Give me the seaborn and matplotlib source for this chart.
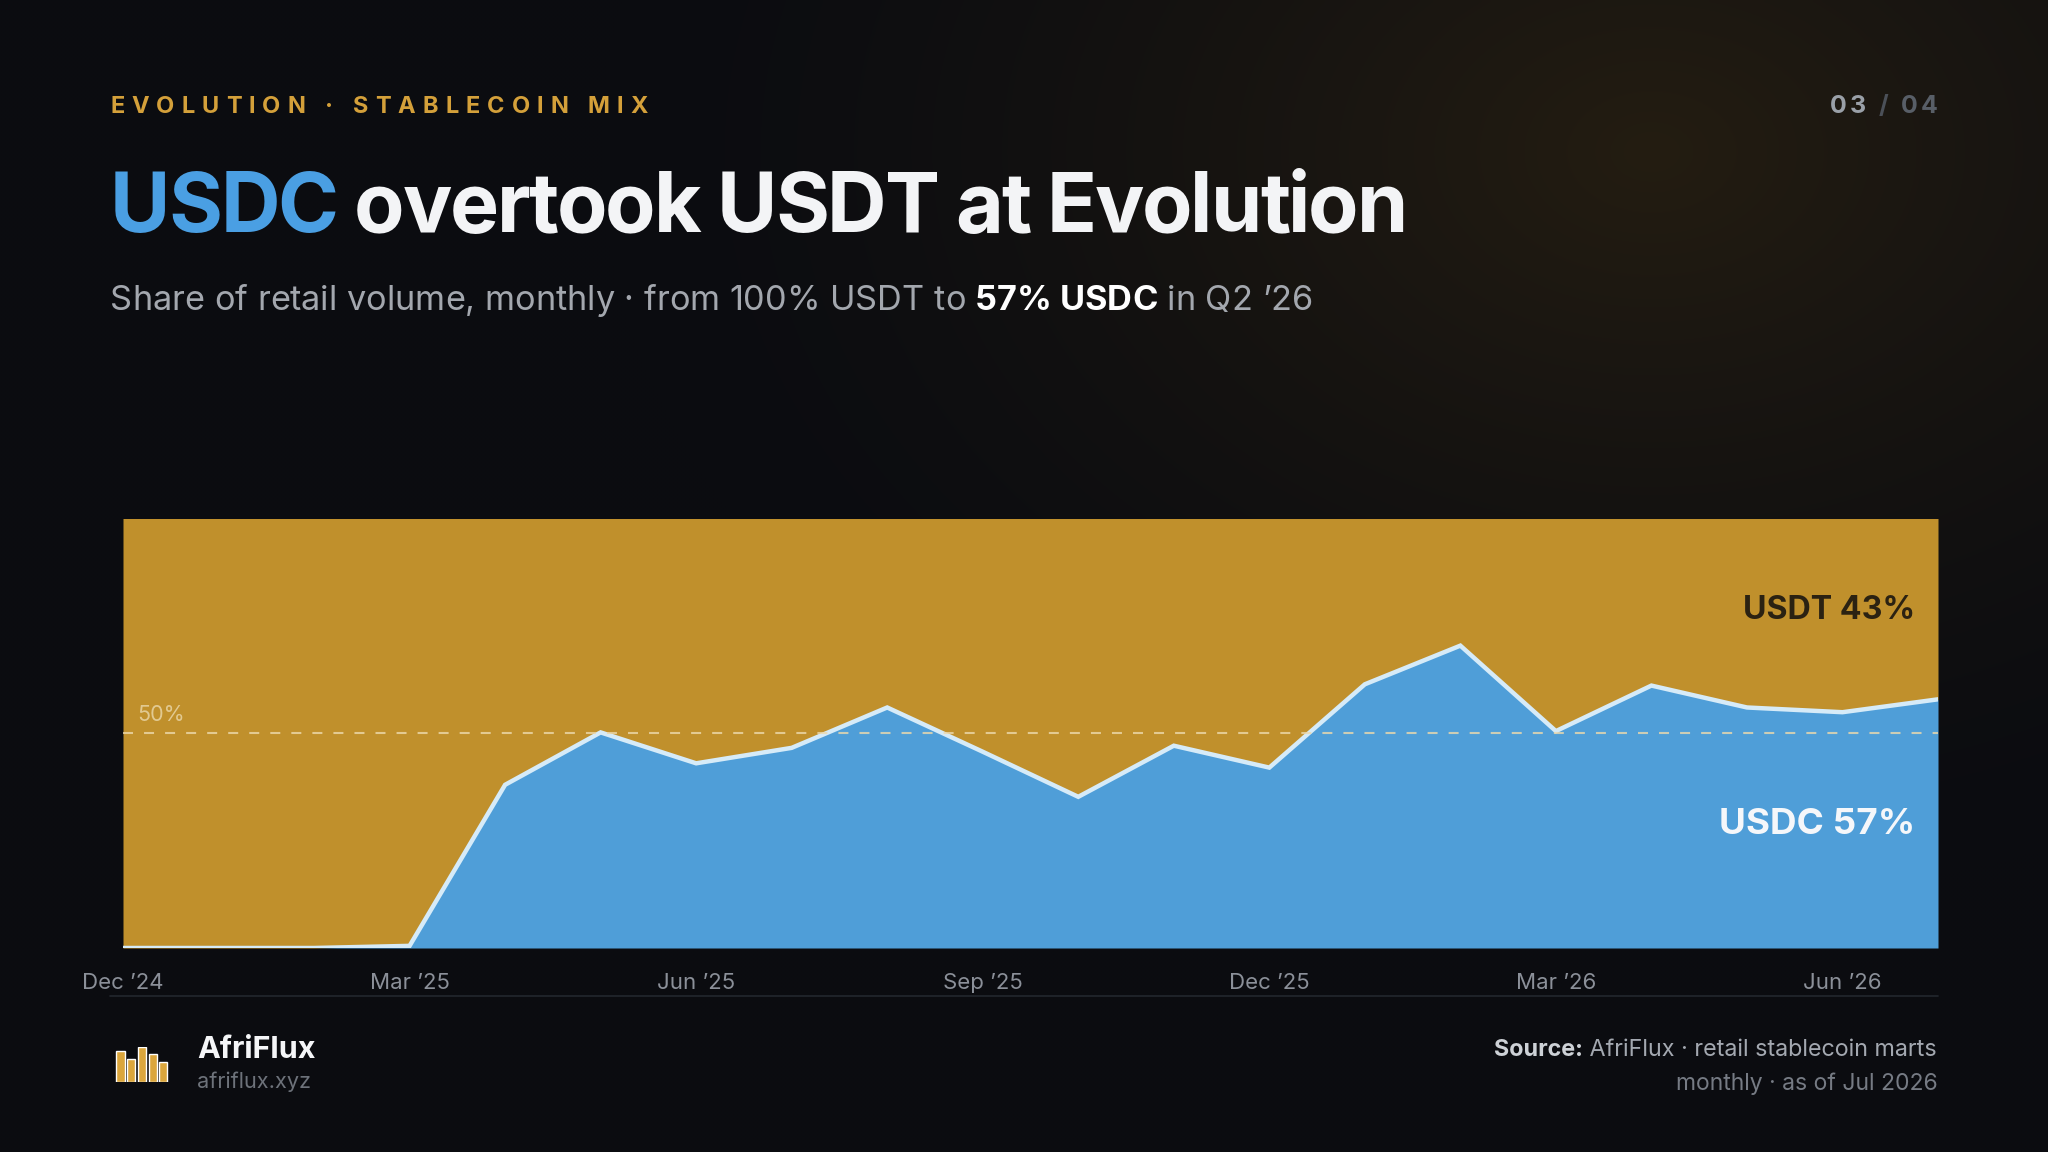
import matplotlib
matplotlib.use("Agg")
import matplotlib.pyplot as plt
import seaborn as sns
import numpy as np
import pandas as pd
from matplotlib import font_manager as fm
from matplotlib.ft2font import FT2Font
from matplotlib.lines import Line2D

# data
months = ["Dec ’24", "Jan ’25", "Feb ’25", "Mar ’25", "Apr ’25", "May ’25", "Jun ’25",
          "Jul ’25", "Aug ’25", "Sep ’25", "Oct ’25", "Nov ’25", "Dec ’25", "Jan ’26",
          "Feb ’26", "Mar ’26", "Apr ’26", "May ’26", "Jun ’26", "Jul ’26"]
usdc_share = [0.0, 0.0, 0.0, 0.5, 38.0, 50.2, 43.0, 46.6, 56.0, 45.7, 35.2, 47.1,
              42.0, 61.4, 70.4, 50.5, 61.1, 56.0, 54.9, 57.9]
tick_months = ["Dec ’24", "Mar ’25", "Jun ’25", "Sep ’25", "Dec ’25", "Mar ’26", "Jun ’26"]
q2_months = ["Apr ’26", "May ’26", "Jun ’26"]
logo_bars = [31, 23, 35, 28, 20]

GOLD = "#c0902c"
BLUE = "#4f9ed8"
LINE = "#d6ebf8"
BG = (11, 12, 16)
GLOW = (36, 29, 18)

df = pd.DataFrame({"month": months, "usdc": usdc_share})
df["usdt"] = 100 - df["usdc"]
df["idx"] = range(len(df))
q2 = df[df["month"].isin(q2_months)]["usdc"].mean()

sns.set_theme(style="dark")
plt.rcParams["font.family"] = ["Inter", "DejaVu Sans"]

W, H = 2048, 1152
fig = plt.figure(figsize=(W / 100, H / 100), dpi=100)
fig.patch.set_facecolor(np.array(BG) / 255)


def fx(px):
    return px / W


def fy(py):
    return 1 - py / H


_fonts = {}


def advances(text, size, weight):
    if weight not in _fonts:
        _fonts[weight] = fm.findfont(fm.FontProperties(family="Inter", weight=weight))
    f = FT2Font(_fonts[weight])
    f.set_size(size, 100)
    return [f.load_char(ord(c)).linearHoriAdvance / 65536 for c in text]


def draw_runs(x, y, runs, ha="left", tracking=0.0, fit=None):
    # runs: (text, size, weight, color); y is the baseline in pixels from top
    advs = [advances(t, s, w) for t, s, w, c in runs]
    n = sum(len(r[0]) for r in runs)
    natural = sum(sum(a) for a in advs)
    if fit is not None:
        tracking = (fit - natural) / (n - 1)
    total = natural + tracking * (n - 1)
    cx = x if ha == "left" else x - total
    for (text, size, weight, color), a in zip(runs, advs):
        if tracking == 0:
            fig.text(fx(cx), fy(y), text, fontsize=size, fontweight=weight,
                     color=color, va="baseline", ha="left")
            cx += sum(a)
        else:
            for ch, w in zip(text, a):
                if ch != " ":
                    fig.text(fx(cx), fy(y), ch, fontsize=size, fontweight=weight,
                             color=color, va="baseline", ha="left")
                cx += w + tracking


# background with warm glow top right
bg = fig.add_axes([0, 0, 1, 1], zorder=-10)
yy, xx = np.mgrid[0:H:4, 0:W:4]
d = np.sqrt(((xx - 1650) / 1050.0) ** 2 + ((yy - 150) / 750.0) ** 2)
t = np.clip(1 - d, 0, 1) ** 1.5
img = np.zeros(xx.shape + (3,))
for k in range(3):
    img[..., k] = (BG[k] + (GLOW[k] - BG[k]) * t) / 255
bg.imshow(img, extent=[0, 1, 0, 1], aspect="auto", interpolation="bilinear")
bg.axis("off")

# header
draw_runs(110, 113, [("EVOLUTION · STABLECOIN MIX", 17, "bold", "#d4a03a")], fit=538)
draw_runs(1938, 113, [("03", 18, "bold", "#9aa0a8"), (" / ", 18, "bold", "#4b5058"),
                      ("04", 18, "bold", "#585e67")], ha="right", fit=108)
draw_runs(110, 232, [("USDC", 59.4, "bold", "#4a9fe3"),
                     (" overtook USDT at Evolution", 59.4, "bold", "#f3f4f6")], fit=1298)
draw_runs(110, 310, [("Share of retail volume, monthly · from 100% USDT to ", 24.7, "normal", "#a3a7ae"),
                     ("57% USDC", 24.7, "bold", "#ffffff"),
                     (" in Q2 ’26", 24.7, "normal", "#a3a7ae")], fit=1203)

# main chart
ax = fig.add_axes([fx(123), fy(948), (1938 - 123) / W, (948 - 518.5) / H])
ax.set_facecolor("none")
ax.fill_between(df["idx"], df["usdc"], 100, color=GOLD, lw=0, zorder=1)
ax.fill_between(df["idx"], 0, df["usdc"], color=BLUE, lw=0, zorder=2)
sns.lineplot(data=df, x="idx", y="usdc", ax=ax, color=LINE, lw=3.2, zorder=3)
for ln in ax.get_lines():
    ln.set_solid_joinstyle("miter")
ax.axhline(50, ls=(0, (4.8, 5.3)), color="#ecd9ad", lw=1.5, alpha=0.8, zorder=5)
ax.text(14 / 1815, 0.5 + 8 / 429.5, "50%", transform=ax.transAxes, fontsize=15.5,
        color="#e8d4a4", alpha=0.85, va="bottom", ha="left")
ax.set_xlim(0, len(months) - 1)
ax.set_ylim(0, 100)
ax.set_xticks([months.index(m) for m in tick_months])
ax.set_xticklabels(tick_months)
ax.set_yticks([])
ax.set_xlabel("")
ax.set_ylabel("")
ax.tick_params(axis="x", length=0, pad=18, labelsize=16, labelcolor="#8b9099")
for s in ax.spines.values():
    s.set_visible(False)

ax.text(0.9875, 0.785, f"USDT {100 - q2:.0f}%", transform=ax.transAxes, fontsize=23.2,
        fontweight="bold", color="#2b2212", ha="right", va="center")
ax.text(0.9875, 0.287, f"USDC {q2:.0f}%", transform=ax.transAxes, fontsize=26.5,
        fontweight="bold", color="#f5f7fa", ha="right", va="center")

# separator
fig.add_artist(Line2D([fx(110), fx(1938)], [fy(996), fy(996)], color="#23272e", lw=1.2))

# footer logo
lg = fig.add_axes([fx(115.2), fy(1081.7), 53.5 / W, 35 / H])
lg.bar(range(len(logo_bars)), logo_bars, width=0.76, color="#dba63c")
lg.set_xlim(-0.5, len(logo_bars) - 0.5)
lg.set_ylim(0, 35)
lg.axis("off")

draw_runs(197, 1058, [("AfriFlux", 22, "bold", "#f5f6f8")])
draw_runs(197, 1088, [("afriflux.xyz", 15.6, "normal", "#6d727a")])
draw_runs(1938, 1055.5, [("Source:", 16.8, "bold", "#cdd1d6"),
                         (" AfriFlux · retail stablecoin marts", 16.8, "normal", "#a3a8b0")], ha="right")
draw_runs(1938, 1090, [("monthly · as of Jul 2026", 16.5, "normal", "#767b84")], ha="right")

fig.savefig("out.png", dpi=100, facecolor=fig.get_facecolor())
